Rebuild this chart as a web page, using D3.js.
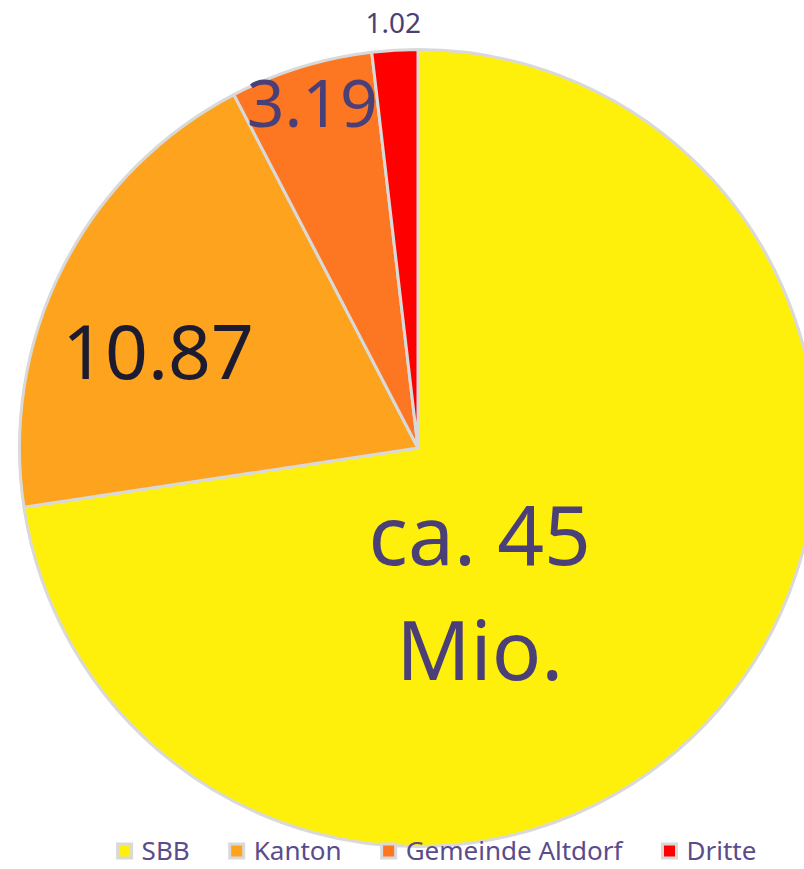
<!DOCTYPE html>
<html>
<head>
<meta charset="utf-8">
<script src="https://cdn.jsdelivr.net/npm/d3@7"></script>
<style>
  body { margin: 0; background: #fff; }
  svg { display: block; font-family: "Noto Sans", sans-serif; }
</style>
</head>
<body>
<div id="chart"></div>
<script>
// slice values (Mio. CHF)
var categories = ["SBB", "Kanton", "Gemeinde Altdorf", "Dritte"];
var values = [40.0, 10.87, 3.19, 1.02];
var labels = [["ca. 45", "Mio."], ["10.87"], ["3.19"], ["1.02"]];
var colors = ["#fef00b", "#fda31e", "#fd7622", "#ff0000"];

var width = 804, height = 869;
var cx = 418, cy = 448, radius = 400;

var svg = d3.select("#chart").append("svg")
    .attr("width", width)
    .attr("height", height);

var pie = d3.pie().sort(null).value(function(d) { return d; });
var arcs = pie(values);

var arc = d3.arc().innerRadius(0).outerRadius(radius - 1.5);

var g = svg.append("g").attr("transform", "translate(" + cx + "," + cy + ")");

g.selectAll("path.slice")
    .data(arcs)
    .enter()
    .append("path")
    .attr("class", "slice")
    .attr("d", arc)
    .attr("fill", function(d, i) { return colors[i]; })
    .attr("stroke", "#d9d9d9")
    .attr("stroke-width", 3)
    .attr("stroke-linejoin", "round");

// label placement: [radius fraction, angle override in degrees (null = slice middle)]
var labelSpots = [[0.395, 157], [0.692, 290.1], [0.90, null], [1.065, null]];
var labelSizes = [82, 75, 66, 28];
var labelColors = ["#4b3f77", "#1d1b2f", "#4b3f77", "#4b3f77"];

arcs.forEach(function(d, i) {
    var ang = labelSpots[i][1] === null ? (d.startAngle + d.endAngle) / 2 : labelSpots[i][1] * Math.PI / 180;
    var r = radius * labelSpots[i][0];
    var x = Math.sin(ang) * r, y = -Math.cos(ang) * r;
    var lines = labels[i];
    var lh = 115;
    var t = g.append("text")
        .attr("text-anchor", "middle")
        .attr("font-size", labelSizes[i])
        .attr("fill", labelColors[i]);
    lines.forEach(function(s, k) {
        t.append("tspan")
            .attr("x", x)
            .attr("y", y + (k - (lines.length - 1) / 2) * lh)
            .attr("dy", "0.35em")
            .text(s);
    });
});

// legend
var legend = svg.append("g").attr("class", "legend");
var items = legend.selectAll("g.item")
    .data(categories)
    .enter()
    .append("g")
    .attr("class", "item");

items.append("rect")
    .attr("width", 14).attr("height", 14)
    .attr("y", -7)
    .attr("fill", function(d, i) { return colors[i]; })
    .attr("stroke", "#d9d9d9")
    .attr("stroke-width", 3);

items.append("text")
    .attr("x", 24)
    .attr("dy", "0.35em")
    .attr("font-size", 26)
    .attr("fill", "#5a4c8c")
    .text(function(d) { return d; });

var gap = 40, xPos = 0, pos = [];
items.each(function() {
    pos.push(xPos);
    xPos += 24 + d3.select(this).select("text").node().getComputedTextLength() + gap;
});
var total = xPos - gap;
var startX = 437 - total / 2;
items.attr("transform", function(d, i) { return "translate(" + (startX + pos[i]) + ",851)"; });
</script>
</body>
</html>
